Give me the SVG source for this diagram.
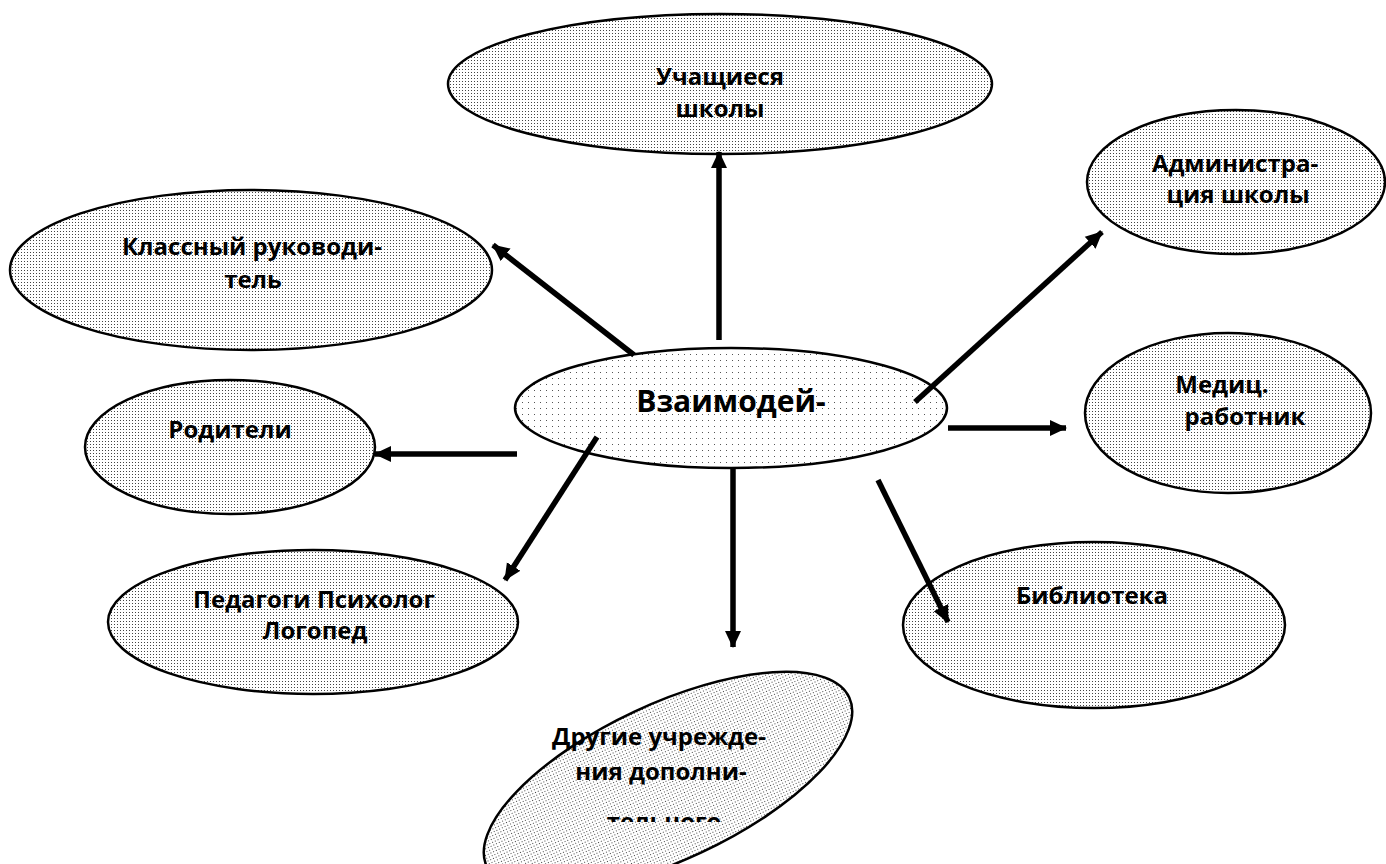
<svg xmlns="http://www.w3.org/2000/svg" width="1386" height="864" viewBox="0 0 1386 864">
  <style>
    .node { fill: url(#dots); stroke: #000; stroke-width: 2.5; }
    .center { fill: url(#sparse); stroke: #000; stroke-width: 2.5; }
    .lbl { font-family: "Open Sans", "Liberation Sans", sans-serif; font-weight: bold; font-size: 24px; fill: #000; text-anchor: middle; }
    .big { font-size: 30px; }
    .conn line { stroke: #000; stroke-width: 5.5; marker-end: url(#arr); }
  </style>
  <defs>
    <pattern id="dots" width="3" height="3" patternUnits="userSpaceOnUse">
      <rect width="3" height="3" fill="#fff"/>
      <rect width="1" height="1" fill="#444"/>
    </pattern>
    <pattern id="sparse" width="6" height="6" patternUnits="userSpaceOnUse">
      <rect width="6" height="6" fill="#fff"/>
      <rect width="1" height="1" fill="#555"/>
    </pattern>
    <marker id="arr" markerUnits="userSpaceOnUse" markerWidth="18" markerHeight="18" viewBox="0 0 18 18" refX="16" refY="9" orient="auto">
      <path d="M0,1 L17,9 L0,17 Z" fill="#000"/>
    </marker>
    <clipPath id="clipBottom">
      <rect x="480" y="660" width="400" height="162"/>
    </clipPath>
  </defs>
  <rect width="1386" height="864" fill="#fff"/>

  <g id="n-uchashchiesya">
    <ellipse class="node" cx="720" cy="84" rx="272" ry="70"/>
    <text class="lbl" x="720" y="85">Учащиеся</text>
    <text class="lbl" x="720" y="117">школы</text>
  </g>
  <g id="n-klassny">
    <ellipse class="node" cx="251" cy="270" rx="241" ry="80"/>
    <text class="lbl" x="252" y="255">Классный руководи-</text>
    <text class="lbl" x="253" y="288">тель</text>
  </g>
  <g id="n-roditeli">
    <ellipse class="node" cx="230" cy="447" rx="145" ry="67"/>
    <text class="lbl" x="230" y="438">Родители</text>
  </g>
  <g id="n-pedagogi">
    <ellipse class="node" cx="313" cy="622" rx="205" ry="72"/>
    <text class="lbl" x="314" y="608">Педагоги Психолог</text>
    <text class="lbl" x="315" y="639">Логопед</text>
  </g>
  <g id="n-center">
    <ellipse class="center" cx="731" cy="408" rx="216" ry="60"/>
    <text class="lbl big" x="731" y="412">Взаимодей-</text>
  </g>
  <g id="n-admin">
    <ellipse class="node" cx="1236" cy="182" rx="149" ry="72"/>
    <text class="lbl" x="1235" y="172">Администра-</text>
    <text class="lbl" x="1238" y="203">ция школы</text>
  </g>
  <g id="n-medic">
    <ellipse class="node" cx="1228" cy="413" rx="143" ry="80"/>
    <text class="lbl" x="1222" y="393">Медиц.</text>
    <text class="lbl" x="1245" y="425">работник</text>
  </g>
  <g id="n-biblioteka">
    <ellipse class="node" cx="1094" cy="625" rx="191" ry="83"/>
    <text class="lbl" x="1092" y="604">Библиотека</text>
  </g>
  <g id="n-drugie">
    <ellipse class="node" cx="668" cy="782" rx="200" ry="78" transform="rotate(-25 668 782)"/>
    <text class="lbl" x="659" y="745">Другие учрежде-</text>
    <text class="lbl" x="661" y="780">ния дополни-</text>
    <text class="lbl" x="664" y="830" clip-path="url(#clipBottom)">тельного</text>
  </g>

  <g id="connectors" class="conn">
    <line x1="719" y1="340" x2="719" y2="152"/>
    <line x1="634" y1="355" x2="493" y2="245"/>
    <line x1="517" y1="454" x2="375" y2="454"/>
    <line x1="597" y1="437" x2="505" y2="580"/>
    <line x1="733" y1="468" x2="733" y2="647"/>
    <line x1="878" y1="480" x2="948" y2="622"/>
    <line x1="948" y1="428" x2="1066" y2="428"/>
    <line x1="915" y1="402" x2="1102" y2="232"/>
  </g>
</svg>
